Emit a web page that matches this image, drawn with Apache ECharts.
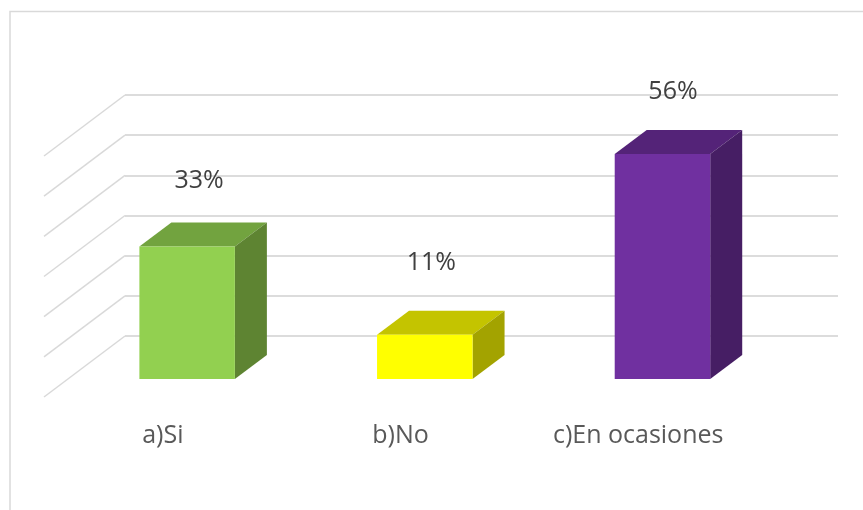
<!DOCTYPE html>
<html>
<head>
<meta charset="utf-8">
<style>html,body{margin:0;padding:0;background:#fff}#c{width:863px;height:510px}</style>
<script src="https://cdn.jsdelivr.net/npm/echarts@6/dist/echarts.min.js"></script>
</head>
<body>
<div id="c"></div>
<script>
const categories = ['a)Si', 'b)No', 'c)En ocasiones'];
const values = [33, 11, 56];
const yTicks = [0, 10, 20, 30, 40, 50, 60];
const faceColors = ['#92D050', '#FFFF00', '#7030A0'];
const topColors = ['#72A33F', '#C4C400', '#542378'];
const sideColors = ['#5E8432', '#A3A300', '#461E64'];
const labelNudge = [[12, -66], [6.5, -72], [10.5, -62]];

const FONT = '"Open Sans", sans-serif';
const WALL = [-81, 61], BAR_W = 95.5, DEPTH = [32, -24], BAR_SHIFT = [-56.7, 43];

const chart = echarts.init(document.getElementById('c'), null, {renderer: 'canvas'});
chart.setOption({
  animation: false,
  backgroundColor: '#fff',
  graphic: [{
    type: 'polyline', silent: true, z: 0,
    shape: {points: [[10, 510], [10, 11.5], [863, 11.5]]},
    style: {stroke: '#D9D9D9', lineWidth: 1.5, fill: null}
  }],
  grid: {left: 125, right: 25, top: 95, bottom: 174},
  xAxis: {
    type: 'category', data: categories,
    axisLine: {show: false}, axisTick: {show: false}, splitLine: {show: false},
    axisLabel: {color: '#595959', fontFamily: FONT, fontSize: 25, margin: 87, padding: [0, 162, 0, 0], interval: 0, hideOverlap: false}
  },
  yAxis: {
    type: 'value', min: 0, max: 60, interval: 10,
    axisLine: {show: false}, axisTick: {show: false}, axisLabel: {show: false},
    splitLine: {show: true, lineStyle: {color: '#DCDCDC', width: 2}}
  },
  series: [{
    type: 'custom', silent: true, z: 1,
    data: yTicks.map(v => [v]),
    encode: {y: 0},
    renderItem(params, api) {
      const y = api.coord([0, api.value(0)])[1];
      const x = params.coordSys.x;
      return {type: 'line', shape: {x1: x, y1: y, x2: x + WALL[0], y2: y + WALL[1]},
        style: {stroke: '#D9D9D9', lineWidth: 1.5}};
    }
  }, {
    type: 'custom', silent: true, z: 2,
    data: values.map((v, i) => [i, v]),
    encode: {x: 0, y: 1},
    renderItem(params, api) {
      const i = api.value(0), v = api.value(1);
      const base = api.coord([i, 0]), top = api.coord([i, v]);
      const l = base[0] + BAR_SHIFT[0] - BAR_W / 2, r = l + BAR_W;
      const b = base[1] + BAR_SHIFT[1], t = top[1] + BAR_SHIFT[1];
      const dx = DEPTH[0], dy = DEPTH[1];
      return {type: 'group', children: [
        {type: 'polygon', shape: {points: [[l, t], [r, t], [r + dx, t + dy], [l + dx, t + dy]]}, style: {fill: topColors[i]}},
        {type: 'polygon', shape: {points: [[r, t], [r + dx, t + dy], [r + dx, b + dy], [r, b]]}, style: {fill: sideColors[i]}},
        {type: 'rect', shape: {x: l, y: t, width: BAR_W, height: b - t}, style: {fill: faceColors[i]}},
        {type: 'text', style: {
          text: v + '%', x: (l + r) / 2 + labelNudge[i][0], y: t + labelNudge[i][1],
          align: 'center', verticalAlign: 'middle',
          fill: '#404040', font: '25px ' + FONT
        }}
      ]};
    }
  }]
});
</script>
</body>
</html>
